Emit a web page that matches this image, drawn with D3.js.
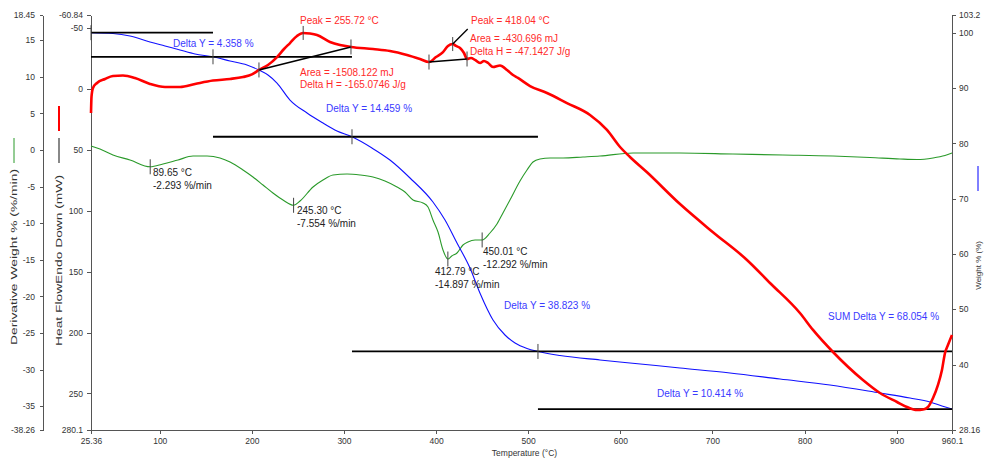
<!DOCTYPE html>
<html>
<head>
<meta charset="utf-8">
<script src="https://cdn.jsdelivr.net/npm/d3@7"></script>
<style>
  body { margin: 0; background: #fff; }
  svg { display: block; font-family: "Liberation Sans", Arial, sans-serif; }
  .axis path, .axis line { stroke: #555; shape-rendering: crispEdges; }
  .axis text { fill: #333; font-size: 8.5px; }
</style>
</head>
<body>
<svg id="chart" width="1008" height="464"></svg>
<script>
// ---- Temperature axis ----
const tempTicks = [25.36, 100, 200, 300, 400, 500, 600, 700, 800, 900, 960.1];
const derivTicks = [18.45, 15, 10, 5, 0, -5, -10, -15, -20, -25, -30, -35, -38.26];
const heatTicks = [-60.84, -50, 0, 50, 100, 150, 200, 250, 280.1];
const weightTicks = [103.2, 100, 90, 80, 70, 60, 50, 40, 28.16];

// ---- TGA: weight % vs temperature ----
const weightT = [25.36, 49.2, 67.7, 89.4, 105.7, 122.0, 138.3, 157.8, 176.3, 194.7, 207.7, 217.5,
  227.3, 241.4, 259.9, 277.2, 292.4, 308.7, 330.4, 349.9, 371.7, 396.6, 409.7, 422.7, 436.8,
  447.6, 461.8, 474.8, 485.7, 498.7, 510.6, 534.5, 577.9, 610.5, 664.8, 719.1, 773.4, 827.6,
  881.9, 914.5, 936.2, 949.2, 960.1];
const weightPct = [100.0, 99.85, 99.4, 98.32, 97.6, 96.87, 96.15, 95.64, 94.88, 94.16, 93.25, 92.35,
  90.9, 87.83, 85.48, 83.67, 82.22, 81.18, 79.15, 76.98, 73.73, 69.39, 66.13, 61.97, 57.45,
  52.93, 48.05, 45.34, 43.89, 42.9, 42.36, 41.63, 40.82, 40.28, 39.37, 38.47, 37.38, 36.3,
  34.85, 33.94, 33.22, 32.5, 31.95];

// ---- DSC: heat flow (endo down) vs temperature ----
const heatT = [25.36, 25.9, 27.5, 31.9, 40.6, 49.2, 60.1, 73.1, 89.4, 105.7, 122.0, 138.3, 157.8,
  176.3, 190.4, 200.1, 207.7, 217.5, 227.3, 234.9, 241.4, 249.0, 255.7, 263.1, 270.7, 284.8,
  295.7, 307.6, 331.5, 349.9, 368.4, 382.5, 392.3, 399.9, 407.5, 412.9, 418.0, 421.6, 426.0,
  430.3, 433.6, 437.9, 442.3, 447.7, 452.0, 456.4, 461.8, 469.4, 477.0, 483.5, 488.9, 502.0,
  520.4, 542.1, 567.1, 585.5, 599.7, 610.5, 629.0, 664.8, 700.6, 737.5, 762.5, 795.0, 809.2,
  830.9, 863.4, 881.9, 900.4, 911.2, 922.1, 928.6, 934.0, 939.5, 944.9, 949.2, 952.5, 955.7, 960.1];
const heatMW = [19.7, 6.5, -0.9, -5.0, -8.3, -10.7, -11.1, -9.1, -4.2, -1.7, -1.7, -4.2, -7.0,
  -8.3, -9.9, -12.0, -15.7, -19.8, -26.3, -32.9, -37.8, -43.6, -46.1, -45.6, -44.4, -38.7,
  -36.2, -34.6, -32.9, -31.3, -28.0, -24.7, -22.2, -26.3, -30.4, -35.4, -37.0, -35.4, -33.7,
  -29.6, -24.7, -25.5, -23.9, -21.4, -23.1, -21.4, -18.1, -19.4, -15.7, -11.5, -9.1, -2.5,
  3.2, 11.5, 21.3, 33.6, 47.6, 55.8, 68.4, 94.5, 117.6, 140.4, 159.3, 184.0, 197.9,
  216.0, 239.0, 249.7, 257.1, 261.2, 263.7, 263.3, 261.2, 253.8, 243.1, 230.8, 216.8, 210.3, 202.0];

// ---- DTG: derivative weight vs temperature ----
const derivT = [25.36, 35.1, 49.2, 67.7, 89.65, 103.5, 119.8, 136.1, 151.3, 165.4, 176.3, 190.4,
  201.2, 212.1, 222.9, 233.8, 245.3, 252.3, 266.4, 277.2, 288.1, 303.3, 317.4, 331.5, 344.5,
  357.6, 366.2, 375.0, 385.8, 391.2, 396.6, 402.1, 407.5, 412.79, 417.0, 422.7, 429.2, 434.6,
  442.3, 450.01, 458.5, 466.1, 472.6, 480.2, 491.1, 498.7, 505.2, 512.8, 523.7, 537.8, 559.5,
  577.9, 613.8, 664.8, 722.3, 776.6, 830.9, 871.0, 903.6, 922.1, 939.5, 952.5, 960.1];
const derivRate = [0.55, 0.14, -0.68, -1.36, -2.293, -1.91, -1.36, -0.82, -0.82, -1.09, -1.64, -2.73,
  -3.69, -4.78, -5.87, -6.83, -7.554, -6.97, -5.05, -4.1, -3.41, -3.28, -3.41, -3.69, -4.23,
  -5.05, -5.74, -6.83, -7.24, -7.79, -9.56, -11.2, -13.66, -14.897, -14.48, -14.07, -12.98, -12.57,
  -12.3, -12.292, -11.34, -10.11, -8.61, -6.83, -4.23, -2.73, -1.64, -1.23, -1.09, -1.09, -0.95,
  -0.82, -0.41, -0.41, -0.55, -0.68, -0.82, -1.02, -1.23, -1.3, -1.09, -0.75, -0.41];

// ---- Weight-loss steps ----
const startWeight = 100.0;
const stepTemps = [25.36, 157.8, 308.7, 510.6, 960.1];
const stepDeltas = [4.358, 14.459, 38.823, 10.414];

// ---- DSC peak integration ----
const peakTemps = [255.72, 418.04];
const peakAreas = ["-1508.122", "-430.696"];
const peakDeltaH = ["-165.0746", "-47.1427"];
const peakBaseStart = [207.7, 392.3];
const peakBaseEnd = [307.6, 433.6];

// ---- DTG peaks ----
const dtgTemps = [89.65, 245.30, 412.79, 450.01];
const dtgRates = [-2.293, -7.554, -14.897, -12.292];

// ================= drawing =================
const svg = d3.select("#chart");
const L = 91, R = 952, T = 15, B = 430;

const x = d3.scaleLinear().domain([25.36, 960.1]).range([L, R]);
const yW = d3.scaleLinear().domain([28.16, 103.2]).range([B, T]);
const yH = d3.scaleLinear().domain([-60.84, 280.1]).range([T, B]);
const yD = d3.scaleLinear().domain([-38.26, 18.45]).range([B, T]);

const fmt = d => String(d);
const fmtFixed = (v, n) => v.toFixed(n);

// axes
svg.append("g").attr("class", "axis").attr("transform", `translate(0,${B})`)
  .call(d3.axisBottom(x).tickValues(tempTicks).tickFormat(fmt).tickSize(4).tickPadding(4).tickSizeOuter(0));
svg.append("g").attr("class", "axis").attr("transform", "translate(43,0)")
  .call(d3.axisLeft(yD).tickValues(derivTicks).tickFormat(fmt).tickSize(3).tickPadding(5).tickSizeOuter(0));
svg.append("g").attr("class", "axis").attr("transform", `translate(${L},0)`)
  .call(d3.axisLeft(yH).tickValues(heatTicks).tickFormat(fmt).tickSize(4).tickPadding(4).tickSizeOuter(0));
svg.append("g").attr("class", "axis").attr("transform", `translate(${R},0)`)
  .call(d3.axisRight(yW).tickValues(weightTicks).tickFormat(fmt).tickSize(4).tickPadding(3).tickSizeOuter(0));

// axis titles with legend swatches
svg.append("text").attr("x", (L + R) / 2 + 3).attr("y", 456).attr("text-anchor", "middle")
  .attr("font-size", 8.5).attr("fill", "#333").text("Temperature (°C)");

function vTitle(cx, yEnd, label, size, span) {
  const t = svg.append("text").attr("transform", `translate(${cx + 3},${yEnd}) rotate(-90)`)
    .attr("text-anchor", "end").attr("font-size", size).attr("fill", "#333").text(label);
  if (span) t.attr("textLength", span).attr("lengthAdjust", "spacingAndGlyphs");
}
function swatch(cx, y1, y2, color, w) {
  svg.append("line").attr("x1", cx).attr("x2", cx).attr("y1", y1).attr("y2", y2)
    .attr("stroke", color).attr("stroke-width", w);
}
vTitle(14, 169, "Derivative Weight % (%/min)", 9.5, 176);
swatch(14, 138, 163, "#2a9a2a", 1);
vTitle(59, 175, "Heat FlowEndo Down (mW)", 9.5, 171);
swatch(59, 138, 163, "#888", 2);
swatch(59, 106, 131, "#ff0000", 2);
vTitle(978, 241, "Weight % (%)", 8, null);
swatch(978, 166, 191, "#0000ff", 1);

// interpolation helper for positioning annotations on a curve
function interp(xs, ys, t) {
  const i = Math.max(1, Math.min(xs.length - 1, d3.bisectLeft(xs, t)));
  const f = (t - xs[i - 1]) / (xs[i] - xs[i - 1]);
  return ys[i - 1] + f * (ys[i] - ys[i - 1]);
}

const plot = svg.append("g");

// curves
const line = (ys, yScale, xs) => d3.line()
  .x((d, i) => x(xs[i])).y(d => yScale(d)).curve(d3.curveMonotoneX)(ys);

plot.append("path").attr("d", line(derivRate, yD, derivT))
  .attr("fill", "none").attr("stroke", "#2a9a2a").attr("stroke-width", 1.1);
plot.append("path").attr("d", line(weightPct, yW, weightT))
  .attr("fill", "none").attr("stroke", "#1010ff").attr("stroke-width", 1.1);

// weight-step levels
const levels = [startWeight];
stepDeltas.forEach(dv => levels.push(+(levels[levels.length - 1] - dv).toFixed(3)));
levels.forEach((lv, k) => {
  const t0 = stepTemps[Math.max(k - 1, 0)], t1 = stepTemps[Math.min(k + 1, stepTemps.length - 1)];
  plot.append("line").attr("x1", x(t0)).attr("x2", x(t1)).attr("y1", yW(lv)).attr("y2", yW(lv))
    .attr("stroke", "#000").attr("stroke-width", 1.8);
});

// heat flow curve
plot.append("path").attr("d", line(heatMW, yH, heatT))
  .attr("fill", "none").attr("stroke", "#ff0000").attr("stroke-width", 2.6).attr("stroke-linejoin", "round");

// marker helper
function tick(px, py, len) {
  plot.append("line").attr("x1", px).attr("x2", px).attr("y1", py - len / 2).attr("y2", py + len / 2)
    .attr("stroke", "#444").attr("stroke-width", 1);
}

// weight-step markers
levels.slice(0, 4).forEach((lv, k) => tick(x(stepTemps[k]), yW(lv), 15));

// DSC baselines, peak markers
peakTemps.forEach((pt, i) => {
  const s = peakBaseStart[i], e = peakBaseEnd[i];
  const hs = interp(heatT, heatMW, s), he = interp(heatT, heatMW, e), hp = interp(heatT, heatMW, pt);
  plot.append("line").attr("x1", x(s)).attr("y1", yH(hs)).attr("x2", x(e)).attr("y2", yH(he))
    .attr("stroke", "#000").attr("stroke-width", 1.5);
  tick(x(s), yH(hs), 15);
  tick(x(e), yH(he), 15);
  tick(x(pt), yH(hp), 14);
  if (i === 1) {
    plot.append("line").attr("x1", x(pt)).attr("y1", yH(hp)).attr("x2", x(pt) + 15).attr("y2", yH(hp) - 15)
      .attr("stroke", "#000").attr("stroke-width", 1.3);
  }
});

// DTG peak markers
dtgTemps.forEach((t, i) => tick(x(t), yD(dtgRates[i]), 15));

// text annotations
function label(px, py, str, color) {
  svg.append("text").attr("x", px).attr("y", py).attr("font-size", 10).attr("fill", color).text(str);
}
const BLUE = "#3a3aff", RED = "#ff2a2a", DARK = "#222";

label(173, 47, `Delta Y = ${fmtFixed(stepDeltas[0], 3)} %`, BLUE);
label(326, 112, `Delta Y = ${fmtFixed(stepDeltas[1], 3)} %`, BLUE);
label(504, 309, `Delta Y = ${fmtFixed(stepDeltas[2], 3)} %`, BLUE);
label(657, 397, `Delta Y = ${fmtFixed(stepDeltas[3], 3)} %`, BLUE);
label(828, 320, `SUM Delta Y = ${fmtFixed(d3.sum(stepDeltas), 3)} %`, BLUE);

label(300, 24, `Peak = ${fmtFixed(peakTemps[0], 2)} °C`, RED);
label(300, 76, `Area = ${peakAreas[0]} mJ`, RED);
label(300, 88, `Delta H = ${peakDeltaH[0]} J/g`, RED);
label(471, 24, `Peak = ${fmtFixed(peakTemps[1], 2)} °C`, RED);
label(470, 42, `Area = ${peakAreas[1]} mJ`, RED);
label(470, 55, `Delta H = ${peakDeltaH[1]} J/g`, RED);

const dtgLabelPos = [[153, 176], [297, 214], [435, 275], [483, 255]];
dtgTemps.forEach((t, i) => {
  const [px, py] = dtgLabelPos[i];
  label(px, py, `${fmtFixed(t, 2)} °C`, DARK);
  label(px, py + 12.5, `${fmtFixed(dtgRates[i], 3)} %/min`, DARK);
});
</script>
</body>
</html>
